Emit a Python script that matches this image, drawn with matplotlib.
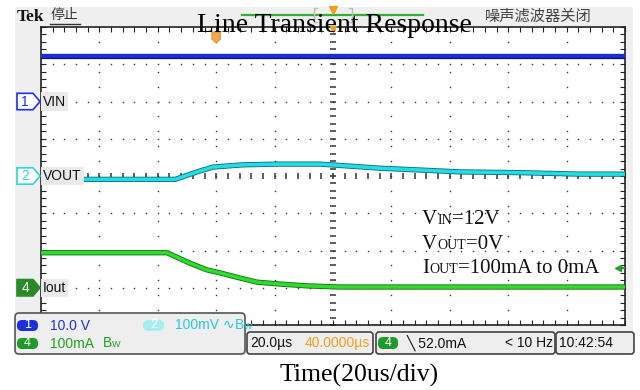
import numpy as np
import matplotlib.pyplot as plt
import matplotlib.patheffects as pe
from matplotlib.patches import FancyBboxPatch, Polygon
from matplotlib.transforms import IdentityTransform, blended_transform_factory

# scope settings
time_per_div = 20          # us
ch1_scale, ch1_pos = 10.0, 2.0     # V/div, div
ch2_scale, ch2_pos = 100.0, 0.0    # mV/div
ch4_scale, ch4_pos = 100.0, -3.0   # mA/div
trig_level = 52.0                  # mA

# traces (time in us, trigger at 0)
vin_t = [-60, 140]
vin_v = [12.3, 12.3]

vout_t = [-60, -14, -6.6, -1.1, 9.2, 21.8, 35.5, 56, 70, 83.5, 104, 124.6, 140]
vout_mv = [-9, -9, 11, 24, 30, 32, 32, 21, 16, 11, 9, 5, 5]

iout_t = [-60, -16.8, -9.0, -3.2, 1.3, 8.2, 14.0, 21.8, 31.1, 42.4, 140]
iout_ma = [94, 94, 66, 48, 40, 26, 15, 10, 5, 2, 2]

W, H = 640, 390
PIX = IdentityTransform()
NARROW = ['Liberation Sans', 'DejaVu Sans']
CJK = ['Noto Sans CJK SC', 'DejaVu Sans']
SERIF = 'Liberation Serif'

fig = plt.figure(figsize=(6.4, 3.9), dpi=100)
fig.patch.set_facecolor('white')
renderer = fig.canvas.get_renderer()


def box(x0, y0, x1, y1, fc, ec='none', r=3, lw=1.0, z=5):
    p = FancyBboxPatch((x0, H - y1), x1 - x0, y1 - y0,
                       boxstyle=f"round,pad=0,rounding_size={r}",
                       fc=fc, ec=ec, lw=lw, transform=PIX, zorder=z)
    fig.add_artist(p)


def txt(x, y, s, **kw):
    kw.setdefault('va', 'center')
    kw.setdefault('zorder', 6)
    return fig.text(x, H - y, s, transform=PIX, **kw)


def rich(x, y, parts, va='baseline', color='#111', family=SERIF):
    # parts: (text, size) or (text, size, family)
    for p in parts:
        s, size = p[0], p[1]
        fam = p[2] if len(p) > 2 else family
        t = txt(x, y, s, va=va, fontsize=size, family=fam, color=color, zorder=6)
        x = t.get_window_extent(renderer).x1


# gray scope screen background
box(15, 7, 633, 355, '#efefef', r=0, z=-5)

ax = fig.add_axes([41 / W, 1 - 325 / H, 584 / W, 298 / H])
ax.set_facecolor('white')
ax.set_xlim(-60, 140)
ax.set_ylim(-4, 4)
ax.set_xticks(np.arange(-60, 140.1, time_per_div / 5))
ax.set_yticks(np.arange(-4, 4.01, 0.2))
ax.tick_params(direction='in', length=3.5, width=0.8, color='#222',
               top=True, right=True, labelbottom=False, labelleft=False)
for s in ax.spines.values():
    s.set_color('#222')
    s.set_linewidth(1.2)

# dotted graticule
for gx in np.arange(-40, 140, time_per_div):
    if gx == 40:
        continue
    yy = np.arange(-4, 4.01, 0.4)
    ax.plot(np.full_like(yy, gx), yy, ls='none', marker='s', ms=1.0, mew=0, color='#333', zorder=1)
for gy in range(-3, 4):
    if gy == 0:
        continue
    xx = np.arange(-60, 140.1, time_per_div / 5)
    ax.plot(xx, np.full_like(xx, gy, dtype=float), ls='none', marker='s', ms=1.0, mew=0,
            color='#333', zorder=1)

# center crosshair ticks
cy = np.arange(-4, 4.01, 0.2)
ax.plot(np.full_like(cy, 40), cy, ls='none', marker='_', ms=4, mew=1.1, color='#333', zorder=1)
cx = np.arange(-60, 140.1, time_per_div / 5)
ax.plot(cx, np.zeros_like(cx), ls='none', marker='|', ms=4, mew=1.1, color='#333', zorder=1)

# traces
ax.plot(vin_t, ch1_pos + np.array(vin_v) / ch1_scale, color='#1a2fd6', lw=2.6, zorder=3,
        path_effects=[pe.Stroke(linewidth=3.8, foreground='#0b1570'), pe.Normal()])
ax.plot(vout_t, ch2_pos + np.array(vout_mv) / ch2_scale, color='#22dde6', lw=2.6, zorder=3,
        path_effects=[pe.Stroke(linewidth=3.8, foreground='#106a6e'), pe.Normal()])
ax.plot(iout_t, ch4_pos + np.array(iout_ma) / ch4_scale, color='#2edc2e', lw=2.6, zorder=3,
        path_effects=[pe.Stroke(linewidth=3.8, foreground='#136b13'), pe.Normal()])

# channel labels inside the graticule
for name, pos in [('VIN', ch1_pos), ('VOUT', ch2_pos), ('Iout', ch4_pos)]:
    ax.text(-59.3, pos, name, ha='left', va='center', fontsize=10, family=NARROW,
            color='#111', zorder=4,
            bbox=dict(facecolor='#e9e9e9', edgecolor='none', pad=1.5))

# channel ground markers
bt = blended_transform_factory(PIX, ax.transData)
markers = [('1', ch1_pos, 'white', '#2030e0', '#2030e0'),
           ('2', ch2_pos, 'white', '#2ad6e0', '#2ad6e0'),
           ('4', ch4_pos, '#2a8a2a', '#2a8a2a', 'white')]
for lab, pos, fc, ec, tc in markers:
    h = 0.22
    poly = Polygon([(17, pos - h), (33, pos - h), (40, pos), (33, pos + h), (17, pos + h)],
                   closed=True, fc=fc, ec=ec, lw=1.2, transform=bt, clip_on=False, zorder=6)
    ax.add_patch(poly)
    ax.text(25, pos, lab, transform=bt, ha='center', va='center', fontsize=10,
            family=NARROW, color=tc, clip_on=False, zorder=7)

# trigger level arrow on right edge
ax.plot([137.5], [ch4_pos + trig_level / ch4_scale], marker='<', ms=5, color='#22a022',
        clip_on=False, zorder=5)
ax.plot([137.5, 139.5], [ch4_pos + trig_level / ch4_scale] * 2, color='#22a022', lw=1.5,
        clip_on=False, zorder=5)

# trigger position marker (orange T) and center marker
tb = blended_transform_factory(ax.transData, PIX)
ax.add_patch(Polygon([(-1.5, H - 32), (1.5, H - 32), (1.5, H - 39), (0, H - 43), (-1.5, H - 39)],
                     closed=True, fc='#f3a64c', ec='#e08a20', lw=0.6, transform=tb,
                     clip_on=False, zorder=8))
ax.plot([40], [H - 29], marker='v', ms=5, color='#f0a020', transform=tb, clip_on=False, zorder=8)

# top status bar
fig.add_artist(plt.Line2D([242, 423], [H - 14.5, H - 14.5], transform=PIX, color='#33b033', lw=1.6, zorder=4))
fig.add_artist(plt.Line2D([317, 314, 314, 317], [H - 8, H - 8, H - 22, H - 22], transform=PIX, color='#bbbbbb', lw=1, zorder=4))
fig.add_artist(plt.Line2D([349, 352, 352, 349], [H - 8, H - 8, H - 22, H - 22], transform=PIX, color='#bbbbbb', lw=1, zorder=4))
fig.add_artist(plt.Line2D([333], [H - 10], marker='v', ms=5.5, color='#f0a020', transform=PIX, zorder=5))

txt(17, 21, 'Tek', va='baseline', fontsize=12.5, family=SERIF, weight='bold', color='#111')
txt(51, 15, '停止', fontsize=10, family=CJK, color='#333')
fig.add_artist(plt.Line2D([50, 80], [H - 24, H - 24], transform=PIX, color='#333', lw=1, zorder=4))
txt(485, 16, '噪声滤波器关闭', fontsize=11, family=CJK, color='#444')

txt(334.5, 32.5, 'Line Transient Response', ha='center', va='baseline', fontsize=20,
    family=SERIF, color='black', zorder=10)

# conditions annotation
rich(422, 224, [('V', 15), ('IN', 10), ('=12V', 15)])
rich(422, 249, [('V', 15), ('OUT', 10), ('=0V', 15)])
rich(422, 273, [('I', 15), ('OUT', 10), ('=100mA to 0mA', 15)])

# bottom left channel panel
box(15, 313, 245, 354, '#eeeeee', ec='#555', r=4, lw=1.2, z=5)
box(17, 320, 38, 331, '#1c2fd8', r=5, z=6)
txt(27.5, 325.5, '1', ha='center', fontsize=9, family=NARROW, color='white', zorder=7)
txt(50, 325.5, '10.0 V', fontsize=10, family=NARROW, color='#2030d8')
box(143, 320, 164, 331, '#a6eef2', r=5, z=6)
txt(153.5, 325.5, '2', ha='center', fontsize=9, family=NARROW, color='white', zorder=7)
rich(175, 329, [('100mV ', 10, NARROW), ('\u223f', 10, 'DejaVu Sans'), ('B', 10, NARROW),
                ('W', 6.5, NARROW)], color='#2cc8d8')
box(17, 338, 38, 349, '#1f9a2a', r=5, z=6)
txt(27.5, 343.5, '4', ha='center', fontsize=9, family=NARROW, color='white', zorder=7)
txt(50, 343.5, '100mA', fontsize=10, family=NARROW, color='#22a022')
rich(103, 347, [('B', 10, NARROW), ('W', 6.5, NARROW)], color='#22a022')

# bottom right info boxes
box(247, 332, 373, 354, '#eeeeee', ec='#444', r=3, lw=1.2, z=5)
txt(250, 343, '20.0\u00b5s', fontsize=10, family=NARROW, color='#111')
txt(370, 343, '40.0000\u00b5s', ha='right', fontsize=10, family=NARROW, color='#f0a020')
box(376, 332, 555, 354, '#eeeeee', ec='#444', r=3, lw=1.2, z=5)
box(378, 337, 398, 349, '#1f9a2a', r=5, z=6)
txt(388, 343, '4', ha='center', fontsize=9, family=NARROW, color='white', zorder=7)
txt(407, 343, '\u2572 52.0mA', fontsize=10, family=NARROW, color='#111')
txt(553, 343, '< 10 Hz', ha='right', fontsize=10, family=NARROW, color='#111')
box(556, 332, 634, 354, '#eeeeee', ec='#444', r=3, lw=1.2, z=5)
txt(559, 343, '10:42:54', fontsize=10, family=NARROW, color='#111')

txt(359, 382, 'Time(20us/div)', ha='center', va='baseline', fontsize=18.5, family=SERIF, color='black')

fig.savefig('out.png', dpi=100)
